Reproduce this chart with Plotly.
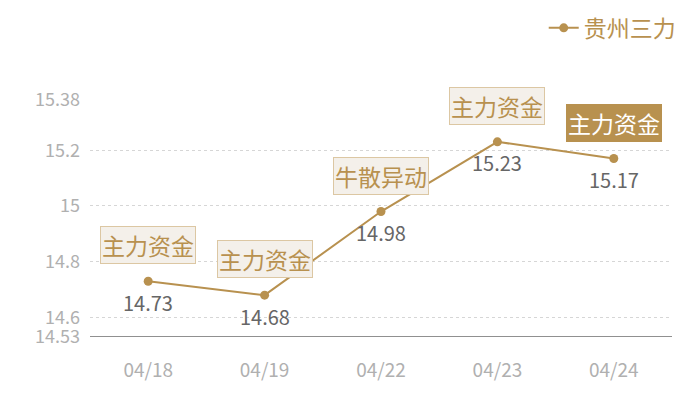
import plotly.graph_objects as go

dates = ["04/18", "04/19", "04/22", "04/23", "04/24"]
prices = [14.73, 14.68, 14.98, 15.23, 15.17]
tags = ["主力资金", "主力资金", "牛散异动", "主力资金", "主力资金"]
tick_vals = [14.53, 14.6, 14.8, 15, 15.2, 15.38]
tick_text = ["14.53", "14.6", "14.8", "15", "15.2", "15.38"]

gold = "#b8914f"
font = "Noto Sans CJK SC"

fig = go.Figure()
fig.add_trace(go.Scatter(
    x=dates, y=prices, name="贵州三力",
    mode="lines+markers",
    line=dict(color=gold, width=2),
    marker=dict(color=gold, size=9),
))

for i, (d, p, t) in enumerate(zip(dates, prices, tags)):
    last = i == len(dates) - 1
    # signal box above the point, the last one highlighted
    fig.add_annotation(
        x=d, y=p, text=t, showarrow=False, yshift=36,
        font=dict(size=23, color="#ffffff" if last else gold, family=font),
        bgcolor=gold if last else "#f4f0ea",
        bordercolor=gold if last else "#dcc7a3",
        borderwidth=1, borderpad=1,
    )
    # price label below the point
    fig.add_annotation(
        x=d, y=p, text=f"{p:.2f}", showarrow=False, yshift=-21,
        font=dict(size=20, color="#666666", family=font),
    )

# page body adds ~8px offset, so size the figure a bit smaller
fig.update_layout(
    width=692, height=392,
    margin=dict(l=82, r=28, t=92, b=63, autoexpand=False),
    plot_bgcolor="white", paper_bgcolor="white",
    font=dict(family=font),
    showlegend=True,
    legend=dict(
        orientation="h", x=1.015, xanchor="right", y=1.395, yanchor="top",
        font=dict(size=23, color=gold, family=font),
        borderwidth=0,
    ),
    xaxis=dict(
        type="category", range=[-0.5, 4.5],
        showgrid=False, ticks="", zeroline=False,
        tickfont=dict(color="#b0b0b0", size=19, family=font),
        ticklabelstandoff=20,
    ),
    yaxis=dict(
        range=[14.53, 15.38],
        tickvals=tick_vals, ticktext=tick_text,
        showgrid=True, gridcolor="#d6d6d6", griddash="dot", gridwidth=1,
        zeroline=False, showline=False, ticks="",
        tickfont=dict(color="#b0b0b0", size=18, family=font),
        ticklabelstandoff=9,
    ),
)
fig.add_hline(y=14.53, line=dict(color="#222222", width=1.2))

fig.write_html("out.html")
